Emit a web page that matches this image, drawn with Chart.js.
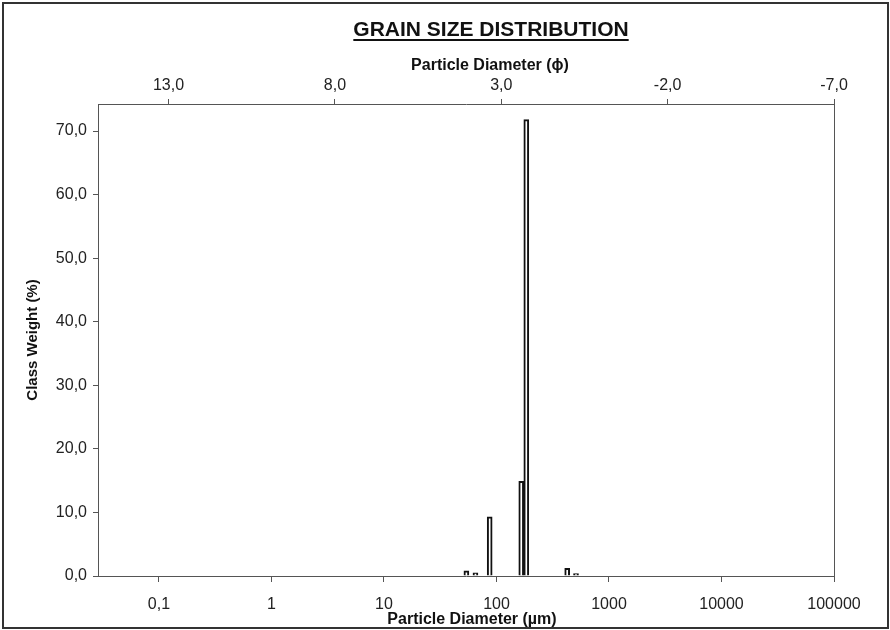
<!DOCTYPE html>
<html>
<head>
<meta charset="utf-8">
<script src="https://cdn.jsdelivr.net/npm/chart.js@4.4.1/dist/chart.umd.min.js"></script>
<style>
  html, body { margin: 0; padding: 0; background: #fff; }
  #wrap { position: relative; width: 890px; height: 630px; overflow: hidden; }
  #frame { position: absolute; left: 2px; top: 2px; width: 883px; height: 623px; border: 2px solid #333; pointer-events: none; }
  #title { position: absolute; left: 291px; width: 400px; top: 17px; text-align: center;
           font: bold 21px "Liberation Sans", Arial, sans-serif; color: #111; text-decoration: underline;
           text-underline-offset: 3px; text-decoration-thickness: 2px; }
  canvas { position: absolute; left: 0; top: 0; }
</style>
</head>
<body>
<div id="wrap">
  <canvas id="c" width="890" height="630"></canvas>
  <div id="frame"></div>
  <div id="title">GRAIN SIZE DISTRIBUTION</div>
</div>
<script>
// ---- data ----
const diameters   = [54, 65, 87, 166, 184, 425, 509];          // particle diameter (µm)
const classWeight = [0.8, 0.5, 9.3, 14.9, 71.8, 1.2, 0.4];       // class weight (%)
const xTickValues = [0.1, 1, 10, 100, 1000, 10000, 100000];
const xTickLabels = ['0,1', '1', '10', '100', '1000', '10000', '100000'];
const phiTickValues = [13, 8, 3, -2, -7];
const phiTickLabels = ['13,0', '8,0', '3,0', '-2,0', '-7,0'];
const yTickValues = [0, 10, 20, 30, 40, 50, 60, 70];
const yTickLabels = ['0,0', '10,0', '20,0', '30,0', '40,0', '50,0', '60,0', '70,0'];

const points = diameters.map((d, i) => ({ x: d, y: classWeight[i] }));

const FONT = '"Liberation Sans", Arial, sans-serif';
const axisCol = '#555';
const tickFont = { family: FONT, size: 16 };

const titlesPlugin = {
  id: 'axisTitles',
  afterDraw(chart) {
    const ctx = chart.ctx;
    const a = chart.chartArea;
    ctx.save();
    ctx.fillStyle = '#111';
    ctx.font = 'bold 16px ' + FONT;
    ctx.textAlign = 'center';
    ctx.textBaseline = 'middle';
    ctx.fillText('Particle Diameter (\u03D5)', 490, 66);
    ctx.fillText('Particle Diameter (\u00B5m)', 472, 620);
    ctx.translate(33, (a.top + a.bottom) / 2);
    ctx.rotate(-Math.PI / 2);
    ctx.font = 'bold 15px ' + FONT;
    ctx.fillText('Class Weight (%)', 0, 0);
    ctx.restore();
  }
};

new Chart(document.getElementById('c'), {
  type: 'bar',
  data: {
    datasets: [{
      data: points,
      xAxisID: 'x',
      yAxisID: 'y',
      backgroundColor: '#ffffff',
      borderColor: '#111111',
      borderWidth: 2,
      barThickness: 5,
      borderSkipped: 'start'
    }]
  },
  options: {
    responsive: false,
    animation: false,
    events: [],
    layout: { padding: { left: 0, right: 56, top: 0, bottom: 0 } },
    plugins: { legend: { display: false }, tooltip: { enabled: false }, title: { display: false } },
    scales: {
      x: {
        type: 'logarithmic',
        position: 'bottom',
        offset: false,
        min: 0.0287,
        max: 100000,
        afterBuildTicks: s => { s.ticks = xTickValues.map(v => ({ value: v })); },
        afterFit: s => { s.height = 54; },
        ticks: {
          autoSkip: false, maxRotation: 0, minRotation: 0, padding: 13,
          color: '#222', font: tickFont,
          callback: (v) => { const i = xTickValues.indexOf(v); return i >= 0 ? xTickLabels[i] : ''; }
        },
        grid: { display: true, offset: false, drawOnChartArea: false, drawTicks: true, tickLength: 6, color: axisCol },
        border: { display: true, color: axisCol, width: 1 }
      },
      x2: {
        type: 'linear',
        position: 'top',
        reverse: true,
        offset: false,
        min: -7,
        max: 15.12,
        afterBuildTicks: s => { s.ticks = phiTickValues.map(v => ({ value: v })); },
        afterFit: s => { s.height = 104; },
        ticks: {
          autoSkip: false, maxRotation: 0, minRotation: 0, padding: 4,
          color: '#222', font: tickFont,
          callback: (v) => { const i = phiTickValues.indexOf(v); return i >= 0 ? phiTickLabels[i] : ''; }
        },
        grid: { display: true, offset: false, drawOnChartArea: false, drawTicks: true, tickLength: 5, color: axisCol },
        border: { display: true, color: axisCol, width: 1 }
      },
      y: {
        type: 'linear',
        position: 'left',
        min: 0,
        max: 74.25,
        afterBuildTicks: s => { s.ticks = yTickValues.map(v => ({ value: v })); },
        afterFit: s => { s.width = 98; },
        ticks: {
          padding: 6, color: '#222', font: tickFont,
          callback: (v) => { const i = yTickValues.indexOf(v); return i >= 0 ? yTickLabels[i] : ''; }
        },
        grid: { display: true, drawOnChartArea: false, drawTicks: true, tickLength: 5, color: axisCol },
        border: { display: true, color: axisCol, width: 1 }
      },
      yR: {
        type: 'linear',
        position: 'right',
        min: 0,
        max: 74.25,
        afterFit: s => { s.width = 0; },
        ticks: { display: false },
        grid: { display: false, drawOnChartArea: false, drawTicks: false },
        border: { display: true, color: axisCol, width: 1 }
      }
    }
  },
  plugins: [titlesPlugin]
});
</script>
</body>
</html>
